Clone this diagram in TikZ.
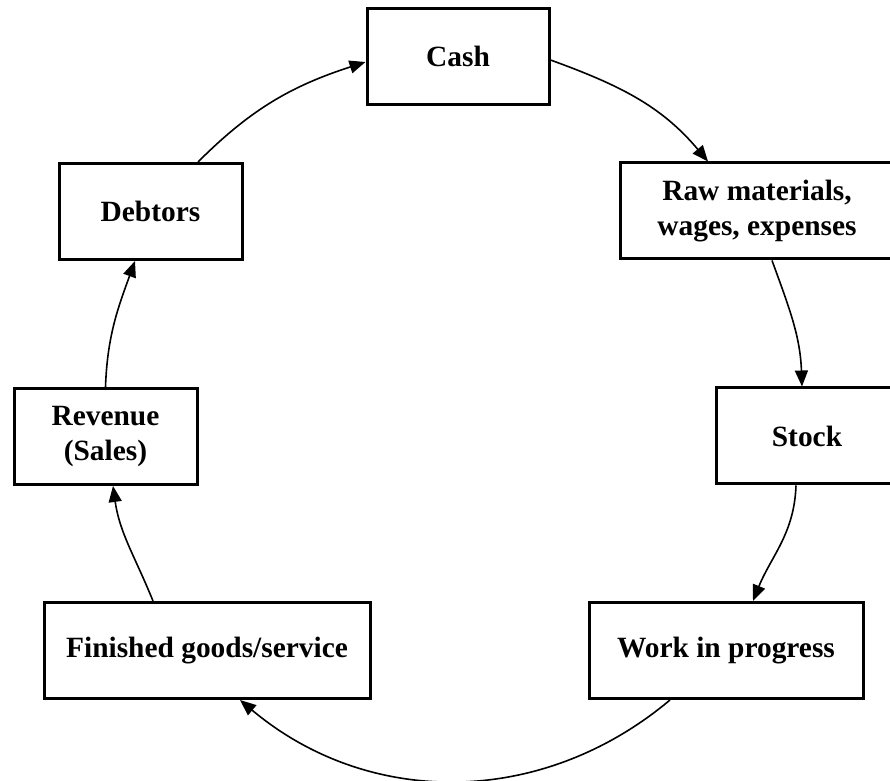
\documentclass[tikz,border=0pt]{standalone}
\usepackage{fontspec}
\setmainfont{Liberation Serif}
\usetikzlibrary{arrows.meta}

\begin{document}
\begin{tikzpicture}[x=0.5pt,y=0.5pt]
\useasboundingbox (0,0) rectangle (890,781);
\tikzset{BoxStyle/.style ={draw, rectangle, line width=1.5pt, inner sep=0, minimum height=48pt, align=center, font=\fontsize{14.7}{17.5}\selectfont\bfseries}}
\node[BoxStyle, minimum width=91pt] (Cash) at (458,724.5) {Cash};
\node[BoxStyle, minimum width=137pt] (Raw) at (757,570) {Raw materials,\\wages, expenses};
\node[BoxStyle, minimum width=91pt] (Stock) at (807,345) {Stock};
\node[BoxStyle, minimum width=137pt] (WIP) at (726,130.5) {Work in progress};
\node[BoxStyle, minimum width=163pt] (Goods) at (207,130.5) {Finished goods/service};
\node[BoxStyle, minimum width=91.5pt] (Sales) at (105.5,344.5) {Revenue\\(Sales)};
\node[BoxStyle, minimum width=91.5pt] (Debtors) at (150.5,569.5) {Debtors};
\tikzset{EdgeStyle/.style ={line width=0.8pt, -{Triangle[length=8pt,width=6.5pt]}}}
\draw[EdgeStyle] ([yshift=-1.75pt]Cash.east) to[out=-20,in=130] ([xshift=-24.5pt]Raw.north);
\draw[EdgeStyle] ([xshift=7.5pt]Raw.south) to[out=-70,in=92] ([xshift=-2.5pt]Stock.north);
\draw[EdgeStyle] ([xshift=-5.5pt]Stock.south) to[out=-92,in=68] ([xshift=13.5pt]WIP.north);
\draw[EdgeStyle] ([xshift=-28pt]WIP.south) to[out=-140,in=-40] ([xshift=16.5pt]Goods.south);
\draw[EdgeStyle] ([xshift=-27pt]Goods.north) to[out=112,in=-82] ([xshift=3.75pt]Sales.south);
\draw[EdgeStyle] (Sales.north) to[out=88,in=-110] ([xshift=-7.75pt]Debtors.south);
\draw[EdgeStyle] ([xshift=23.75pt]Debtors.north) to[out=45,in=-162] ([yshift=-2.75pt]Cash.west);
\end{tikzpicture}
\end{document}
